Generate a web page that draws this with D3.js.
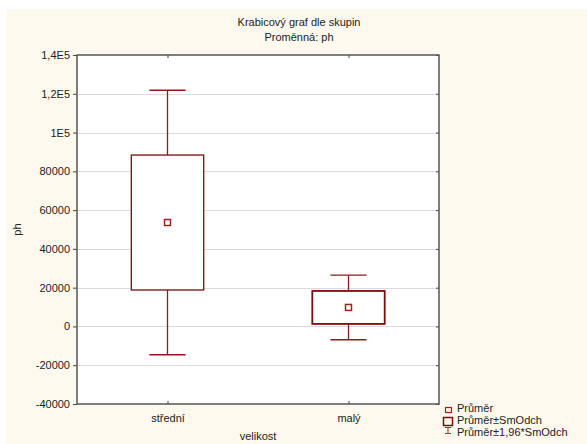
<!DOCTYPE html>
<html>
<head>
<meta charset="utf-8">
<script src="https://cdn.jsdelivr.net/npm/d3@7"></script>
<style>
  html, body { margin: 0; padding: 0; background: #ffffff; }
  svg { display: block; font-family: "Liberation Sans", Arial, sans-serif; }
</style>
</head>
<body>
<svg id="chart" width="587" height="444"></svg>
<script>
// Groups and their summary statistics (mean and standard deviation of ph)
const categories = ["střední", "malý"];
const means = [53600, 9800];
const stdDevs = [34800, 8500];
const yTicks = [-40000, -20000, 0, 20000, 40000, 60000, 80000, 100000, 120000, 140000];
const yTickLabels = ["-40000", "-20000", "0", "20000", "40000", "60000", "80000", "1E5", "1,2E5", "1,4E5"];
const legendLabels = ["Průměr", "Průměr±SmOdch", "Průměr±1,96*SmOdch"];
const titleLines = ["Krabicový graf dle skupin", "Proměnná: ph"];

const svg = d3.select("#chart");
const W = 587, H = 444;
const margin = { left: 77, right: 148, top: 55, bottom: 40 };
const plotW = W - margin.left - margin.right;
const plotH = H - margin.top - margin.bottom;
const boxColor = "#7f0a0a";
const whiskColor = "#8a1c1c";

// Panel background
svg.append("rect").attr("x", 6).attr("y", 9).attr("width", W - 6).attr("height", H - 9)
  .attr("fill", "#fef9ee");

const x = d3.scalePoint().domain(categories).range([0, plotW]).padding(0.5);
const y = d3.scaleLinear().domain([-40000, 140000]).range([plotH, 0]);

const g = svg.append("g").attr("transform", `translate(${margin.left},${margin.top})`);

g.append("rect").attr("width", plotW).attr("height", plotH).attr("fill", "#ffffff");

// Horizontal grid lines
g.append("g").selectAll("line").data(yTicks.slice(1, -1)).join("line")
  .attr("x1", 0).attr("x2", plotW)
  .attr("y1", d => Math.round(y(d)) + 0.5).attr("y2", d => Math.round(y(d)) + 0.5)
  .attr("stroke", "#dcdcdc").attr("stroke-width", 1.2);

// Y axis (left) with custom labels
const yAxis = d3.axisLeft(y).tickValues(yTicks)
  .tickFormat((d, i) => yTickLabels[i]).tickSize(4).tickPadding(3);
const ya = g.append("g").call(yAxis);
ya.select(".domain").remove();
ya.selectAll(".tick line").attr("stroke", "#444");
ya.selectAll("text").attr("font-size", 11).attr("fill", "#222");

// Right axis ticks (inward)
const yr = g.append("g").attr("transform", `translate(${plotW},0)`)
  .call(d3.axisLeft(y).tickValues(yTicks).tickFormat("").tickSize(3));
yr.select(".domain").remove();
yr.selectAll(".tick line").attr("stroke", "#444");

// X axis ticks (inward at bottom and top)
const xb = g.append("g").attr("transform", `translate(0,${plotH})`)
  .call(d3.axisBottom(x).tickSize(-3).tickPadding(10));
xb.select(".domain").remove();
xb.selectAll(".tick line").attr("stroke", "#444");
xb.selectAll("text").attr("font-size", 11).attr("fill", "#222");
const xt = g.append("g")
  .call(d3.axisTop(x).tickSize(-3).tickFormat(""));
xt.select(".domain").remove();
xt.selectAll(".tick line").attr("stroke", "#444");

// Frame
g.append("rect").attr("width", plotW).attr("height", plotH)
  .attr("fill", "none").attr("stroke", "#555").attr("stroke-width", 1.5);

// Boxes: mean ± SD, whiskers: mean ± 1.96 SD
const boxW = plotW * 0.2;
const capW = boxW / 2;
const groups = g.append("g").selectAll("g").data(categories).join("g");
groups.each(function(c, i) {
  const gg = d3.select(this);
  const cx = x(c);
  const m = means[i], s = stdDevs[i];
  const lo = m - 1.96 * s, hi = m + 1.96 * s;
  // whiskers
  gg.append("line").attr("x1", cx).attr("x2", cx).attr("y1", y(m + s)).attr("y2", y(hi))
    .attr("stroke", whiskColor).attr("stroke-width", 1.3);
  gg.append("line").attr("x1", cx).attr("x2", cx).attr("y1", y(m - s)).attr("y2", y(lo))
    .attr("stroke", whiskColor).attr("stroke-width", 1.3);
  gg.append("line").attr("x1", cx - capW / 2).attr("x2", cx + capW / 2).attr("y1", y(hi)).attr("y2", y(hi))
    .attr("stroke", whiskColor).attr("stroke-width", 1.3);
  gg.append("line").attr("x1", cx - capW / 2).attr("x2", cx + capW / 2).attr("y1", y(lo)).attr("y2", y(lo))
    .attr("stroke", whiskColor).attr("stroke-width", 1.3);
  // box
  gg.append("rect").attr("x", cx - boxW / 2).attr("y", y(m + s))
    .attr("width", boxW).attr("height", y(m - s) - y(m + s))
    .attr("fill", "#ffffff").attr("stroke", boxColor).attr("stroke-width", i === 0 ? 1.3 : 1.8);
  // mean marker
  gg.append("rect").attr("x", cx - 3).attr("y", y(m) - 3).attr("width", 6).attr("height", 6)
    .attr("fill", "none").attr("stroke", "#a02020").attr("stroke-width", 1.5);
});

// Titles
const title = svg.append("text").attr("x", 299).attr("y", 26)
  .attr("text-anchor", "middle").attr("font-size", 11).attr("fill", "#222");
titleLines.forEach((t, i) => {
  title.append("tspan").attr("x", 299).attr("dy", i === 0 ? 0 : 15).text(t);
});

// Axis titles
svg.append("text").attr("x", margin.left + plotW / 2).attr("y", 440)
  .attr("text-anchor", "middle").attr("font-size", 11).attr("fill", "#222").text("velikost");
svg.append("text").attr("transform", `translate(21,${margin.top + plotH / 2}) rotate(-90)`)
  .attr("text-anchor", "middle").attr("font-size", 11).attr("fill", "#222").text("ph");

// Legend
const leg = svg.append("g").attr("transform", "translate(443,404)");
leg.append("rect").attr("x", 2.5).attr("y", 3.5).attr("width", 6).attr("height", 5)
  .attr("fill", "none").attr("stroke", "#a02020").attr("stroke-width", 1.2);
leg.append("rect").attr("x", 0.5).attr("y", 13.5).attr("width", 9).attr("height", 8)
  .attr("fill", "none").attr("stroke", boxColor).attr("stroke-width", 1.5);
leg.append("path").attr("d", "M2,23.5H8M5,23.5V29.5M2,29.5H8")
  .attr("fill", "none").attr("stroke", "#b03030").attr("stroke-width", 1.1);
legendLabels.forEach((t, i) => {
  leg.append("text").attr("x", 14).attr("y", 4.5 + i * 11.8)
    .attr("dy", "0.35em").attr("font-size", 11).attr("fill", "#222").text(t);
});
</script>
</body>
</html>
